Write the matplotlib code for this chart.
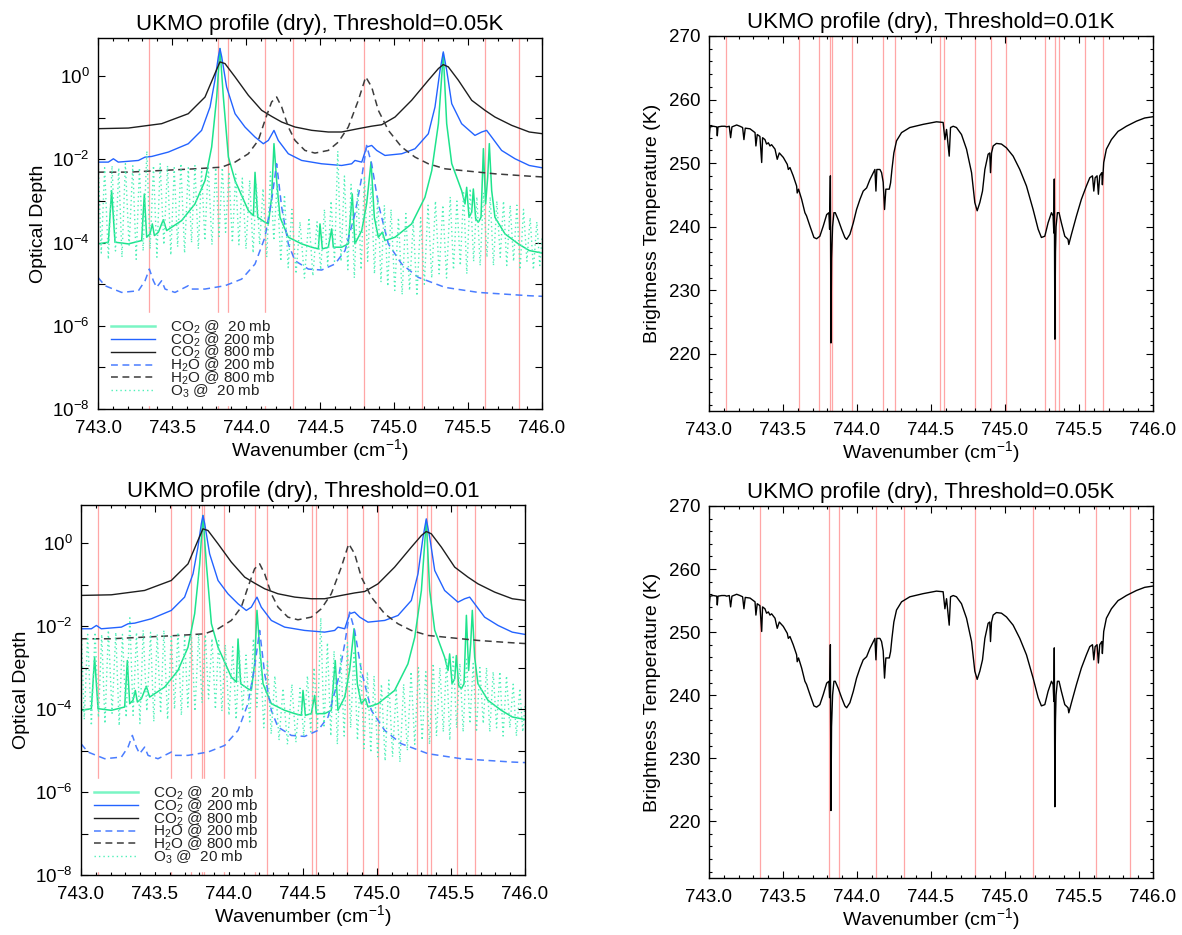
import numpy as np
import matplotlib
matplotlib.use("Agg")
import matplotlib.pyplot as plt
from matplotlib.ticker import FixedLocator, MultipleLocator, NullLocator, FuncFormatter
from matplotlib.lines import Line2D

plt.rcParams['font.family'] = ['Liberation Sans', 'DejaVu Sans']
plt.rcParams['mathtext.fontset'] = 'custom'
plt.rcParams['mathtext.rm'] = 'Liberation Sans'
plt.rcParams['mathtext.it'] = 'Liberation Sans:italic'
plt.rcParams['mathtext.bf'] = 'Liberation Sans:bold'

# channel positions selected at each threshold (cm-1)
lines_005 = [743.347, 743.813, 743.876, 744.127, 744.320, 744.794, 745.188, 745.614, 745.847]
lines_001 = [743.113, 743.611, 743.740, 743.816, 743.830, 743.967, 744.179, 744.256, 744.564,
             744.591, 744.798, 744.904, 745.007, 745.273, 745.337, 745.363, 745.539, 745.662]

# optical depth curves: (wavenumber, log10 optical depth)
co2_800 = [(743.000, -1.26), (743.205, -1.245), (743.430, -1.14), (743.610, -0.90), (743.723, -0.50),
           (743.790, 0.064), (743.824, 0.345), (743.858, 0.305), (743.926, -0.016), (744.016, -0.458),
           (744.106, -0.819), (744.173, -0.964), (744.241, -1.10), (744.331, -1.22), (744.444, -1.30),
           (744.556, -1.34), (744.646, -1.34), (744.759, -1.26), (744.849, -1.20), (744.917, -1.165),
           (745.007, -0.98), (745.119, -0.578), (745.232, -0.096), (745.300, 0.185), (745.333, 0.281),
           (745.367, 0.225), (745.435, -0.096), (745.525, -0.578), (745.615, -0.82), (745.682, -0.98),
           (745.795, -1.18), (745.914, -1.34), (746.000, -1.38)]

co2_200 = [(743.000, -2.064), (743.070, -2.064), (743.104, -1.984), (743.137, -2.064), (743.273, -2.024),
           (743.318, -1.944), (743.363, -1.928), (743.475, -1.823), (743.610, -1.622), (743.700, -1.301),
           (743.757, -0.739), (743.790, -0.096), (743.813, 0.466), (743.824, 0.667), (743.836, 0.466),
           (743.869, -0.257), (743.926, -0.900), (743.993, -1.221), (744.061, -1.462), (744.117, -1.622),
           (744.151, -1.542), (744.189, -1.301), (744.218, -1.542), (744.286, -1.863), (744.376, -2.024),
           (744.511, -2.104), (744.646, -2.145), (744.714, -2.104), (744.736, -2.024), (744.782, -2.064),
           (744.815, -1.703), (744.849, -1.663), (744.883, -1.783), (744.939, -1.904), (745.052, -1.863),
           (745.142, -1.743), (745.232, -1.382), (745.277, -0.739), (745.311, 0.145), (745.333, 0.586),
           (745.356, 0.145), (745.390, -0.659), (745.457, -1.141), (745.547, -1.422), (745.592, -1.341),
           (745.626, -1.301), (745.660, -1.462), (745.727, -1.783), (745.818, -1.984), (745.914, -2.145),
           (746.000, -2.20)]

co2_20 = [(743.000, -4.03), (743.070, -3.99), (743.092, -2.75), (743.115, -3.99), (743.205, -4.03),
          (743.295, -3.95), (743.313, -2.83), (743.329, -3.87), (743.351, -3.79), (743.367, -3.55),
          (743.381, -3.83), (743.408, -3.75), (743.441, -3.45), (743.464, -3.71), (743.565, -3.47),
          (743.655, -3.07), (743.723, -2.51), (743.768, -1.70), (743.802, -0.50), (743.824, 0.667),
          (743.847, -0.50), (743.881, -1.94), (743.926, -2.51), (744.016, -3.23), (744.050, -3.35),
          (744.061, -2.31), (744.079, -3.39), (744.128, -3.51), (744.151, -3.55), (744.173, -2.91),
          (744.189, -1.62), (744.207, -2.51), (744.230, -3.39), (744.286, -3.87), (744.376, -4.03),
          (744.444, -4.11), (744.489, -4.15), (744.500, -3.55), (744.516, -4.15), (744.556, -4.11),
          (744.579, -3.67), (744.590, -4.11), (744.646, -4.11), (744.691, -4.03), (744.718, -2.83),
          (744.736, -4.03), (744.782, -3.71), (744.815, -3.07), (744.845, -2.06), (744.867, -3.39),
          (744.894, -3.87), (744.921, -3.75), (744.939, -3.95), (745.007, -3.87), (745.119, -3.55),
          (745.209, -2.91), (745.255, -2.27), (745.300, -1.14), (745.333, 0.546), (745.356, -1.14),
          (745.390, -2.10), (745.457, -2.75), (745.480, -3.07), (745.491, -2.67), (745.507, -3.39),
          (745.525, -3.27), (745.536, -2.71), (745.552, -3.43), (745.570, -3.51), (745.588, -3.39),
          (745.604, -1.74), (745.619, -3.07), (745.633, -2.43), (745.644, -1.62), (745.660, -2.75),
          (745.682, -3.39), (745.750, -3.79), (745.840, -4.03), (745.914, -4.19), (746.000, -4.25)]

h2o_800 = [(743.000, -2.305), (743.205, -2.305), (743.430, -2.265), (743.655, -2.225), (743.836, -2.185),
           (743.926, -2.064), (744.016, -1.863), (744.083, -1.542), (744.128, -1.060), (744.173, -0.618),
           (744.207, -0.498), (744.241, -0.739), (744.286, -1.221), (744.331, -1.542), (744.398, -1.783),
           (744.466, -1.847), (744.556, -1.783), (744.624, -1.582), (744.691, -1.221), (744.759, -0.578),
           (744.809, -0.016), (744.849, -0.257), (744.894, -0.819), (744.962, -1.301), (745.052, -1.703),
           (745.142, -1.944), (745.232, -2.104), (745.345, -2.225), (745.457, -2.265), (745.682, -2.345),
           (745.914, -2.402), (746.000, -2.42)]

h2o_200 = [(743.000, -4.835), (743.047, -5.036), (743.160, -5.197), (743.273, -5.157), (743.318, -4.916),
           (743.347, -4.635), (743.374, -4.916), (743.396, -5.076), (743.430, -4.916), (743.453, -5.116),
           (743.520, -5.197), (743.588, -5.076), (743.610, -5.036), (743.633, -5.116), (743.723, -5.116),
           (743.858, -5.036), (743.971, -4.876), (744.061, -4.514), (744.128, -3.871), (744.173, -2.988),
           (744.207, -2.104), (744.241, -3.149), (744.286, -4.032), (744.331, -4.434), (744.421, -4.635),
           (744.511, -4.659), (744.601, -4.514), (744.669, -4.193), (744.736, -3.309), (744.782, -2.426),
           (744.815, -1.663), (744.849, -2.104), (744.894, -3.068), (744.962, -4.032), (745.052, -4.514),
           (745.164, -4.835), (745.345, -5.076), (745.570, -5.197), (745.914, -5.277), (746.000, -5.29)]

o3_20 = [(743.000, -1.90), (743.022, -4.25), (743.045, -2.20), (743.070, -4.40), (743.095, -2.15),
         (743.118, -4.20), (743.140, -2.20), (743.162, -4.35), (743.185, -2.10), (743.210, -4.10),
         (743.235, -2.15), (743.258, -4.40), (743.280, -2.20), (743.305, -4.20), (743.330, -1.80),
         (743.352, -4.15), (743.375, -2.15), (743.398, -4.35), (743.420, -2.10), (743.445, -4.05),
         (743.470, -2.15), (743.492, -4.30), (743.515, -2.20), (743.538, -4.10), (743.560, -2.10),
         (743.585, -4.25), (743.610, -2.20), (743.632, -4.00), (743.655, -2.15), (743.678, -4.15),
         (743.700, -2.25), (743.722, -3.95), (743.745, -2.15), (743.770, -4.05), (743.795, -2.20),
         (743.818, -3.85), (743.840, -2.20), (743.862, -3.75), (743.885, -2.30), (743.908, -4.00),
         (743.930, -2.35), (743.952, -4.05), (743.975, -2.45), (744.000, -4.15), (744.025, -2.50),
         (744.048, -4.25), (744.070, -2.60), (744.092, -4.05), (744.115, -2.70), (744.140, -4.35),
         (744.165, -2.30), (744.188, -3.95), (744.210, -2.60), (744.235, -4.45), (744.260, -2.85),
         (744.285, -4.60), (744.310, -3.20), (744.338, -4.75), (744.365, -3.50), (744.395, -4.85),
         (744.425, -3.40), (744.452, -4.80), (744.480, -3.50), (744.505, -4.65), (744.530, -3.20),
         (744.552, -4.55), (744.575, -3.00), (744.598, -4.45), (744.620, -1.80), (744.642, -4.45),
         (744.665, -2.40), (744.688, -4.65), (744.710, -2.60), (744.732, -4.85), (744.755, -2.70),
         (744.778, -4.65), (744.800, -2.40), (744.822, -4.45), (744.845, -2.60), (744.868, -4.75),
         (744.890, -2.90), (744.912, -4.95), (744.935, -3.10), (744.958, -5.05), (744.980, -3.20),
         (745.005, -5.15), (745.030, -3.40), (745.055, -5.25), (745.080, -3.30), (745.105, -5.15),
         (745.130, -3.50), (745.155, -5.28), (745.180, -3.40), (745.205, -5.00), (745.230, -3.10),
         (745.255, -4.85), (745.280, -3.00), (745.305, -4.75), (745.330, -3.10), (745.355, -4.85),
         (745.380, -2.90), (745.402, -4.65), (745.425, -3.00), (745.448, -4.55), (745.470, -2.80),
         (745.492, -4.75), (745.515, -2.70), (745.538, -4.45), (745.560, -2.90), (745.582, -4.55),
         (745.605, -2.80), (745.628, -4.35), (745.650, -2.90), (745.672, -4.55), (745.695, -3.00),
         (745.718, -4.35), (745.740, -3.00), (745.762, -4.55), (745.785, -3.10), (745.808, -4.45),
         (745.830, -3.10), (745.852, -4.65), (745.875, -3.20), (745.898, -4.45), (745.920, -3.40),
         (745.942, -4.65), (745.965, -3.50), (745.985, -4.55), (746.000, -3.90)]

# brightness temperature spectrum: (wavenumber, K)
bt = [(743.000, 254.0), (743.007, 255.7), (743.029, 255.8), (743.052, 255.7), (743.056, 254.3),
      (743.061, 255.7), (743.086, 255.8), (743.108, 255.8), (743.119, 255.7), (743.137, 255.8),
      (743.146, 254.0), (743.155, 255.7), (743.187, 256.0), (743.209, 255.8), (743.227, 255.6),
      (743.236, 253.7), (743.245, 255.5), (743.277, 255.4), (743.311, 254.8), (743.317, 252.7),
      (743.326, 254.5), (743.344, 254.2), (743.356, 250.1), (743.362, 254.0), (743.378, 253.7),
      (743.389, 253.0), (743.401, 253.2), (743.412, 252.7), (743.423, 252.9), (743.446, 252.2),
      (743.461, 250.6), (743.475, 251.6), (743.502, 250.9), (743.529, 249.8), (743.536, 249.0),
      (743.547, 249.3), (743.569, 248.0), (743.592, 246.4), (743.596, 245.3), (743.605, 245.9),
      (743.626, 244.3), (743.648, 242.2), (743.659, 241.7), (743.682, 240.1), (743.709, 238.3),
      (743.727, 238.1), (743.749, 238.5), (743.772, 240.1), (743.795, 241.9), (743.810, 242.2),
      (743.815, 239.6), (743.820, 248.0), (743.824, 221.7), (743.828, 235.0), (743.835, 240.0),
      (743.844, 242.2), (743.853, 242.2), (743.873, 241.1), (743.896, 239.6), (743.918, 238.3),
      (743.930, 238.0), (743.952, 238.8), (743.975, 240.6), (743.997, 242.7), (744.020, 244.3),
      (744.042, 245.6), (744.065, 246.1), (744.087, 247.4), (744.110, 248.5), (744.121, 249.0),
      (744.128, 245.6), (744.134, 249.0), (744.155, 249.0), (744.166, 248.5), (744.177, 247.0),
      (744.186, 242.7), (744.195, 245.9), (744.218, 245.9), (744.227, 246.9), (744.236, 249.0),
      (744.249, 251.6), (744.267, 253.5), (744.301, 254.8), (744.357, 255.6), (744.447, 256.1),
      (744.537, 256.5), (744.582, 256.4), (744.594, 253.7), (744.605, 255.3), (744.623, 251.1),
      (744.632, 255.6), (744.650, 255.8), (744.672, 255.6), (744.706, 254.5), (744.740, 252.2),
      (744.774, 248.5), (744.796, 243.8), (744.812, 242.5), (744.830, 243.8), (744.848, 245.6),
      (744.864, 249.0), (744.886, 251.4), (744.897, 251.6), (744.902, 248.5), (744.909, 251.6),
      (744.920, 252.7), (744.942, 253.1), (744.976, 253.0), (745.010, 252.4), (745.055, 251.1),
      (745.100, 249.0), (745.145, 246.4), (745.190, 242.7), (745.224, 239.6), (745.246, 238.3),
      (745.269, 238.5), (745.291, 240.6), (745.314, 242.2), (745.325, 241.7), (745.330, 239.0),
      (745.333, 247.5), (745.337, 222.3), (745.341, 236.0), (745.345, 240.0), (745.354, 242.2),
      (745.365, 242.2), (745.381, 240.6), (745.404, 238.5), (745.426, 238.0), (745.431, 237.2),
      (745.449, 238.8), (745.483, 241.7), (745.516, 244.3), (745.550, 246.4), (745.573, 247.7),
      (745.591, 248.0), (745.600, 245.6), (745.609, 247.7), (745.622, 248.0), (745.631, 245.1),
      (745.640, 248.0), (745.654, 248.5), (745.658, 246.6), (745.667, 250.1), (745.685, 252.2),
      (745.719, 253.7), (745.764, 255.0), (745.786, 255.3), (745.820, 255.8), (745.888, 256.6),
      (745.944, 257.1), (746.000, 257.3)]

GREEN = '#1ee38c'
O3COL = '#4ef0b8'
BLUE = '#2363ff'
BLUE_D = '#4a7dff'
BLACK = '#1e1e1e'
GREY_D = '#3c3c3c'
RED = '#ffa6a6'

W, H = 1182, 935
fig = plt.figure(figsize=(W / 100, H / 100), dpi=100)


def px_axes(x0, y0, x1, y1):
    return fig.add_axes([x0 / W, 1 - y1 / H, (x1 - x0) / W, (y1 - y0) / H])


def common(ax, title):
    ax.set_xlim(743.0, 746.0)
    ax.xaxis.set_major_locator(MultipleLocator(0.5))
    ax.xaxis.set_minor_locator(MultipleLocator(0.1))
    ax.xaxis.set_major_formatter(FuncFormatter(lambda v, p: f"{v:.1f}"))
    ax.tick_params(which='both', direction='in', top=True, right=True, labelsize=13.5)
    ax.tick_params(axis='x', which='both', pad=8)
    ax.tick_params(axis='y', which='both', pad=6)
    ax.tick_params(which='major', length=5, width=0.8)
    ax.tick_params(which='minor', length=2.5, width=0.8)
    for s in ax.spines.values():
        s.set_linewidth(1.0)
    ax.set_title(title, fontsize=16, pad=6)
    ax.set_xlabel("Wavenumber (cm$^{-1}$)", fontsize=14, labelpad=0)


def log_label(v, p):
    e = int(round(np.log10(v)))
    return f"10$^{{{e}}}$" if e % 2 == 0 else ""


def depth_panel(ax, title, chans):
    for w in chans:
        ax.axvline(w, color=RED, lw=0.9, zorder=1)
    curves = [
        (co2_20, dict(color=GREEN, lw=1.1), 'CO$_2$ @  20 mb'),
        (co2_200, dict(color=BLUE, lw=1.0), 'CO$_2$ @ 200 mb'),
        (co2_800, dict(color=BLACK, lw=1.0), 'CO$_2$ @ 800 mb'),
        (h2o_200, dict(color=BLUE_D, lw=1.1, ls=(0, (4.5, 3))), 'H$_2$O @ 200 mb'),
        (h2o_800, dict(color=GREY_D, lw=1.1, ls=(0, (4.5, 3))), 'H$_2$O @ 800 mb'),
        (o3_20, dict(color=O3COL, lw=1.0, ls=(0, (1, 2.2))), 'O$_3$ @  20 mb'),
    ]
    handles = []
    for data, kw, lab in curves:
        arr = np.array(data)
        ax.plot(arr[:, 0], 10.0 ** arr[:, 1], zorder=2, **kw)
        hk = dict(kw)
        if lab.startswith('CO$_2$ @  20'):
            hk['lw'] = 1.8
            hk['color'] = '#7af5c4'
        handles.append(Line2D([], [], label=lab, **hk))
    ax.set_yscale('log')
    ax.set_ylim(1e-8, 10 ** 0.92)
    ax.yaxis.set_major_locator(FixedLocator(10.0 ** np.arange(-8, 1)))
    ax.yaxis.set_minor_locator(NullLocator())
    ax.yaxis.set_major_formatter(FuncFormatter(log_label))
    common(ax, title)
    ax.set_ylabel("Optical Depth", fontsize=14, labelpad=4)
    leg = ax.legend(handles=handles, loc='lower left', bbox_to_anchor=(0.017, 0.01),
                    fontsize=11, handlelength=2.9, handletextpad=1.0, labelspacing=-0.3,
                    borderpad=0.35, borderaxespad=0, frameon=True, fancybox=False,
                    facecolor='white', edgecolor='white', framealpha=1.0)
    leg.set_zorder(5)
    for t in leg.get_texts():
        t.set_color('#222222')


def bt_panel(ax, title, chans):
    for w in chans:
        ax.axvline(w, color=RED, lw=0.9, zorder=1)
    arr = np.array(bt)
    ax.plot(arr[:, 0], arr[:, 1], color='black', lw=1.0, zorder=2)
    ax.set_ylim(211, 270)
    ax.yaxis.set_major_locator(MultipleLocator(10))
    ax.yaxis.set_minor_locator(MultipleLocator(2))
    common(ax, title)
    ax.set_ylabel("Brightness Temperature (K)", fontsize=14, labelpad=6)


ax_tl = px_axes(98, 38, 542, 409)
depth_panel(ax_tl, "UKMO profile (dry), Threshold=0.05K", lines_005)

ax_bl = px_axes(81, 505, 525, 875)
depth_panel(ax_bl, "UKMO profile (dry), Threshold=0.01", lines_001)

ax_tr = px_axes(709, 36, 1153, 411)
bt_panel(ax_tr, "UKMO profile (dry), Threshold=0.01K", lines_001)

ax_br = px_axes(709, 506, 1153, 878)
bt_panel(ax_br, "UKMO profile (dry), Threshold=0.05K", lines_005)

fig.savefig("out.png", dpi=100)
